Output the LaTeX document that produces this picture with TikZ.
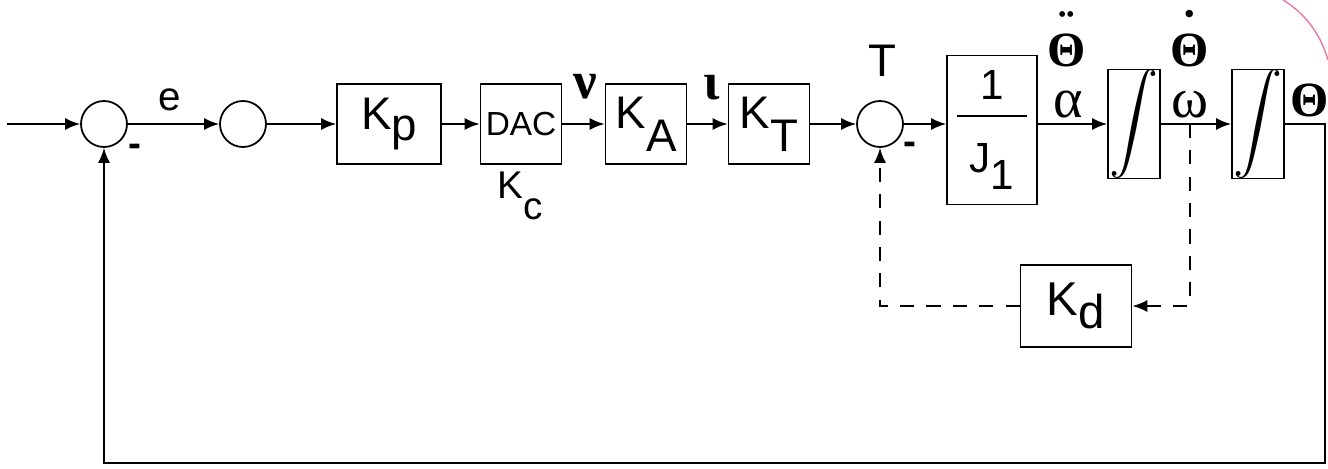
\documentclass[tikz,border=0pt]{standalone}
\usepackage{fontspec}
\setmainfont{Liberation Sans}
\newfontfamily\greekfont{Liberation Serif}
\usepackage{graphicx}
\usetikzlibrary{arrows.meta}
\definecolor{penmark}{RGB}{236,120,165}
\newcommand{\lowsub}[2][0.3em]{\raisebox{-#1}{#2}}
\newcommand{\bigint}{\resizebox{!}{1.7cm}{$\displaystyle\int$}}
\newcommand{\markover}[2]{\ooalign{\hidewidth\raisebox{0.45em}{#1}\hidewidth\cr#2\cr}}

\begin{document}
\begin{tikzpicture}[x=0.2mm,y=-0.2mm,>={Latex[length=3mm,width=2.4mm]},line width=1pt,
  blk/.style={draw,minimum width=1.62cm,minimum height=1.6cm,inner sep=0pt,font=\fontsize{26}{30}\selectfont},
  sumnode/.style={draw,circle,minimum size=0.92cm,inner sep=0pt},
  lbl/.style={inner sep=0pt,font=\fontsize{23}{27}\selectfont},
  grk/.style={inner sep=0pt,font=\fontsize{30}{34}\selectfont\greekfont\bfseries},
  fbline/.style={dash pattern=on 8pt off 7pt}]
\useasboundingbox (0,0) rectangle (1328,468);
\coordinate (in) at (7,124);
\node[sumnode] (sm1) at (104,124) {};
\node[sumnode] (sm2) at (243,124) {};
\node[blk,minimum width=2.08cm] (kp) at (389,124) {K\lowsub[0.26em]{p}};
\node[blk,font=\fontsize{19}{23}\selectfont] (dac) at (521,124) {DAC};
\node[blk] (ka) at (646,124) {K\lowsub[0.5em]{A}};
\node[blk] (kt) at (769,124) {K\lowsub[0.5em]{T}};
\node[sumnode] (sm3) at (880,124) {};
\node[blk,minimum width=1.8cm,minimum height=2.98cm,align=center,font=\fontsize{24}{28}\selectfont] (jin) at (992,130) {1\\[-18pt]\rule{1.4cm}{1pt}\\[4pt]J\lowsub[0.4em]{1}};
\node[blk,minimum width=1.04cm,minimum height=2.1cm] (in1) at (1134,124) {\bigint};
\node[blk,minimum width=1.04cm,minimum height=2.06cm] (in2) at (1258,124) {\bigint};
\node[blk,minimum width=2.22cm,minimum height=1.64cm,font=\fontsize{27}{31}\selectfont] (kd) at (1076,306) {K\lowsub[0.27em]{d}};
% signal labels
\node[lbl] (lble) at (170,100) {e};
\node[lbl,font=\fontsize{22}{26}\selectfont\bfseries] (lblm1) at (135,150) {-};
\node[lbl,font=\fontsize{22}{26}\selectfont\bfseries] (lblm3) at (910,148) {-};
\node[lbl,font=\fontsize{22}{26}\selectfont] (lblkc) at (520,196) {K\lowsub[0.55em]{c}};
\node[grk] (lblnu) at (585,87) {ν};
\node[grk] (lbliota) at (712,88) {ι};
\node[lbl,font=\fontsize{26}{30}\selectfont] (lbltq) at (882,61) {T};
\node[grk,font=\fontsize{28}{32}\selectfont\greekfont\bfseries] (lblacc) at (1067,39) {\markover{¨}{Θ}};
\node[grk,font=\fontsize{28}{32}\selectfont\greekfont\bfseries] (lblvel) at (1190,39) {\markover{˙}{Θ}};
\node[grk,font=\fontsize{32}{36}\selectfont\greekfont] (lblal) at (1068,105) {α};
\node[grk,font=\fontsize{32}{36}\selectfont\greekfont] (lblom) at (1190,105) {ω};
\node[grk,font=\fontsize{28}{32}\selectfont\greekfont\bfseries] (lblth) at (1310,100) {Θ};
% forward path
\draw[->] (in) -- (sm1.west);
\draw[->] (sm1.east) -- (sm2.west);
\draw[->] (sm2.east) -- (kp.west);
\draw[->] (kp.east) -- (dac.west);
\draw[->] (dac.east) -- (ka.west);
\draw[->] (ka.east) -- (kt.west);
\draw[->] (kt.east) -- (sm3.west);
\draw[->] (sm3.east) -- (jin.west |- sm3.east);
\draw[->] (jin.east |- sm3.east) -- (in1.west);
\draw[->] (in1.east) -- (in2.west);
% feedback paths
\coordinate (fbr) at (1325,463);
\draw[->] (in2.east) -| (fbr) -| (sm1.south);
\coordinate (tap) at (1190,124);
\draw[fbline,->] (tap) |- (kd.east);
\draw[fbline,->] (kd.west) -| (sm3.south);
\draw[penmark,line width=0.8pt] (1283,0) .. controls (1303,12) and (1320,32) .. (1328,60);
\end{tikzpicture}
\end{document}
